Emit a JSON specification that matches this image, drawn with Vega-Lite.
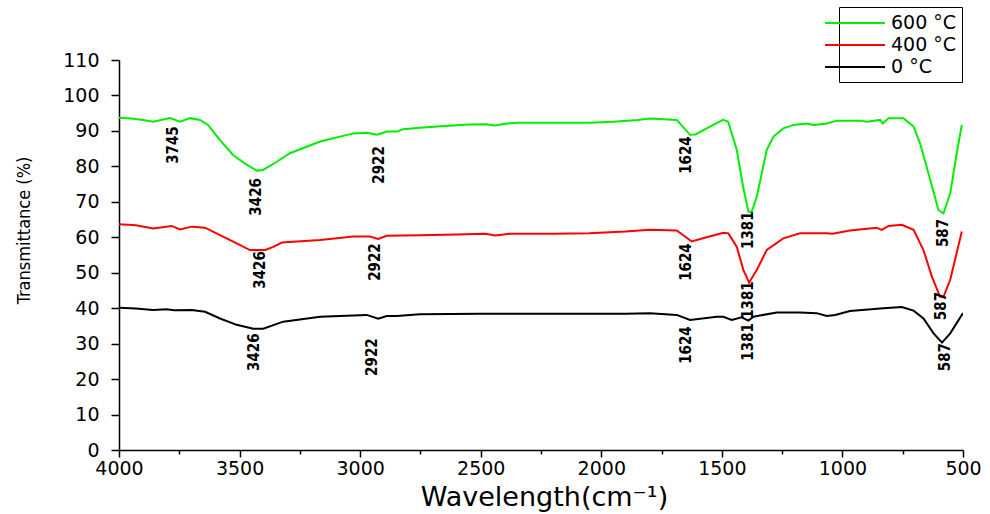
{
  "$schema": "https://vega.github.io/schema/vega-lite/v6.json",
  "width": 844,
  "height": 390,
  "autosize": "none",
  "padding": {"left": 119, "top": 60, "right": 27, "bottom": 64},
  "background": "white",
  "config": {
    "view": {"stroke": null},
    "axis": {"grid": false, "domainColor": "black", "tickColor": "black", "labelColor": "black", "titleColor": "black", "domainWidth": 1.5, "tickWidth": 1.5}
  },
  "datasets": {
    "spectra": [
      {"wn": 4000, "T": 93.7, "s": "600 °C"},
      {"wn": 3950, "T": 93.5, "s": "600 °C"},
      {"wn": 3900, "T": 93.1, "s": "600 °C"},
      {"wn": 3858, "T": 92.6, "s": "600 °C"},
      {"wn": 3788, "T": 93.6, "s": "600 °C"},
      {"wn": 3747, "T": 92.6, "s": "600 °C"},
      {"wn": 3705, "T": 93.6, "s": "600 °C"},
      {"wn": 3664, "T": 93.1, "s": "600 °C"},
      {"wn": 3631, "T": 91.7, "s": "600 °C"},
      {"wn": 3581, "T": 87.4, "s": "600 °C"},
      {"wn": 3527, "T": 83.2, "s": "600 °C"},
      {"wn": 3469, "T": 80.4, "s": "600 °C"},
      {"wn": 3428, "T": 78.8, "s": "600 °C"},
      {"wn": 3403, "T": 79.0, "s": "600 °C"},
      {"wn": 3345, "T": 81.3, "s": "600 °C"},
      {"wn": 3291, "T": 83.7, "s": "600 °C"},
      {"wn": 3166, "T": 87.0, "s": "600 °C"},
      {"wn": 3029, "T": 89.3, "s": "600 °C"},
      {"wn": 2971, "T": 89.5, "s": "600 °C"},
      {"wn": 2930, "T": 88.9, "s": "600 °C"},
      {"wn": 2888, "T": 89.8, "s": "600 °C"},
      {"wn": 2847, "T": 89.8, "s": "600 °C"},
      {"wn": 2822, "T": 90.5, "s": "600 °C"},
      {"wn": 2752, "T": 90.9, "s": "600 °C"},
      {"wn": 2650, "T": 91.4, "s": "600 °C"},
      {"wn": 2550, "T": 91.8, "s": "600 °C"},
      {"wn": 2480, "T": 91.9, "s": "600 °C"},
      {"wn": 2440, "T": 91.5, "s": "600 °C"},
      {"wn": 2400, "T": 92.0, "s": "600 °C"},
      {"wn": 2350, "T": 92.3, "s": "600 °C"},
      {"wn": 2200, "T": 92.3, "s": "600 °C"},
      {"wn": 2050, "T": 92.3, "s": "600 °C"},
      {"wn": 1950, "T": 92.6, "s": "600 °C"},
      {"wn": 1850, "T": 93.1, "s": "600 °C"},
      {"wn": 1798, "T": 93.5, "s": "600 °C"},
      {"wn": 1687, "T": 93.1, "s": "600 °C"},
      {"wn": 1632, "T": 88.9, "s": "600 °C"},
      {"wn": 1610, "T": 89.0, "s": "600 °C"},
      {"wn": 1549, "T": 91.2, "s": "600 °C"},
      {"wn": 1495, "T": 93.1, "s": "600 °C"},
      {"wn": 1474, "T": 92.6, "s": "600 °C"},
      {"wn": 1438, "T": 84.6, "s": "600 °C"},
      {"wn": 1412, "T": 74.3, "s": "600 °C"},
      {"wn": 1390, "T": 67.2, "s": "600 °C"},
      {"wn": 1376, "T": 67.2, "s": "600 °C"},
      {"wn": 1355, "T": 71.5, "s": "600 °C"},
      {"wn": 1314, "T": 84.6, "s": "600 °C"},
      {"wn": 1286, "T": 88.4, "s": "600 °C"},
      {"wn": 1245, "T": 90.7, "s": "600 °C"},
      {"wn": 1203, "T": 91.7, "s": "600 °C"},
      {"wn": 1148, "T": 92.1, "s": "600 °C"},
      {"wn": 1120, "T": 91.7, "s": "600 °C"},
      {"wn": 1065, "T": 92.1, "s": "600 °C"},
      {"wn": 1023, "T": 92.9, "s": "600 °C"},
      {"wn": 927, "T": 92.9, "s": "600 °C"},
      {"wn": 899, "T": 92.6, "s": "600 °C"},
      {"wn": 844, "T": 93.1, "s": "600 °C"},
      {"wn": 833, "T": 92.1, "s": "600 °C"},
      {"wn": 809, "T": 93.6, "s": "600 °C"},
      {"wn": 747, "T": 93.6, "s": "600 °C"},
      {"wn": 705, "T": 91.2, "s": "600 °C"},
      {"wn": 678, "T": 86.5, "s": "600 °C"},
      {"wn": 636, "T": 76.2, "s": "600 °C"},
      {"wn": 602, "T": 67.7, "s": "600 °C"},
      {"wn": 581, "T": 66.7, "s": "600 °C"},
      {"wn": 553, "T": 72.4, "s": "600 °C"},
      {"wn": 526, "T": 83.7, "s": "600 °C"},
      {"wn": 505, "T": 91.7, "s": "600 °C"},

      {"wn": 4000, "T": 63.7, "s": "400 °C"},
      {"wn": 3930, "T": 63.4, "s": "400 °C"},
      {"wn": 3858, "T": 62.5, "s": "400 °C"},
      {"wn": 3782, "T": 63.2, "s": "400 °C"},
      {"wn": 3747, "T": 62.2, "s": "400 °C"},
      {"wn": 3698, "T": 63.0, "s": "400 °C"},
      {"wn": 3643, "T": 62.7, "s": "400 °C"},
      {"wn": 3581, "T": 60.6, "s": "400 °C"},
      {"wn": 3512, "T": 58.3, "s": "400 °C"},
      {"wn": 3457, "T": 56.4, "s": "400 °C"},
      {"wn": 3394, "T": 56.4, "s": "400 °C"},
      {"wn": 3360, "T": 57.3, "s": "400 °C"},
      {"wn": 3325, "T": 58.5, "s": "400 °C"},
      {"wn": 3166, "T": 59.2, "s": "400 °C"},
      {"wn": 3028, "T": 60.2, "s": "400 °C"},
      {"wn": 2959, "T": 60.2, "s": "400 °C"},
      {"wn": 2925, "T": 59.5, "s": "400 °C"},
      {"wn": 2890, "T": 60.4, "s": "400 °C"},
      {"wn": 2752, "T": 60.6, "s": "400 °C"},
      {"wn": 2600, "T": 60.8, "s": "400 °C"},
      {"wn": 2480, "T": 61.0, "s": "400 °C"},
      {"wn": 2440, "T": 60.5, "s": "400 °C"},
      {"wn": 2380, "T": 61.0, "s": "400 °C"},
      {"wn": 2200, "T": 61.0, "s": "400 °C"},
      {"wn": 2050, "T": 61.1, "s": "400 °C"},
      {"wn": 1900, "T": 61.6, "s": "400 °C"},
      {"wn": 1798, "T": 62.1, "s": "400 °C"},
      {"wn": 1687, "T": 61.9, "s": "400 °C"},
      {"wn": 1625, "T": 58.8, "s": "400 °C"},
      {"wn": 1563, "T": 60.0, "s": "400 °C"},
      {"wn": 1494, "T": 61.3, "s": "400 °C"},
      {"wn": 1473, "T": 61.1, "s": "400 °C"},
      {"wn": 1438, "T": 57.3, "s": "400 °C"},
      {"wn": 1411, "T": 50.8, "s": "400 °C"},
      {"wn": 1387, "T": 47.2, "s": "400 °C"},
      {"wn": 1355, "T": 50.8, "s": "400 °C"},
      {"wn": 1314, "T": 56.4, "s": "400 °C"},
      {"wn": 1245, "T": 59.7, "s": "400 °C"},
      {"wn": 1176, "T": 61.1, "s": "400 °C"},
      {"wn": 1065, "T": 61.1, "s": "400 °C"},
      {"wn": 1040, "T": 61.0, "s": "400 °C"},
      {"wn": 969, "T": 61.9, "s": "400 °C"},
      {"wn": 858, "T": 62.7, "s": "400 °C"},
      {"wn": 837, "T": 62.1, "s": "400 °C"},
      {"wn": 809, "T": 63.2, "s": "400 °C"},
      {"wn": 754, "T": 63.5, "s": "400 °C"},
      {"wn": 705, "T": 62.1, "s": "400 °C"},
      {"wn": 664, "T": 56.4, "s": "400 °C"},
      {"wn": 629, "T": 48.9, "s": "400 °C"},
      {"wn": 595, "T": 43.2, "s": "400 °C"},
      {"wn": 581, "T": 43.2, "s": "400 °C"},
      {"wn": 553, "T": 48.0, "s": "400 °C"},
      {"wn": 505, "T": 61.6, "s": "400 °C"},

      {"wn": 4000, "T": 40.1, "s": "0 °C"},
      {"wn": 3930, "T": 39.9, "s": "0 °C"},
      {"wn": 3858, "T": 39.5, "s": "0 °C"},
      {"wn": 3802, "T": 39.7, "s": "0 °C"},
      {"wn": 3772, "T": 39.4, "s": "0 °C"},
      {"wn": 3698, "T": 39.5, "s": "0 °C"},
      {"wn": 3643, "T": 39.0, "s": "0 °C"},
      {"wn": 3581, "T": 37.1, "s": "0 °C"},
      {"wn": 3512, "T": 35.3, "s": "0 °C"},
      {"wn": 3443, "T": 34.2, "s": "0 °C"},
      {"wn": 3402, "T": 34.2, "s": "0 °C"},
      {"wn": 3319, "T": 36.2, "s": "0 °C"},
      {"wn": 3166, "T": 37.6, "s": "0 °C"},
      {"wn": 2973, "T": 38.1, "s": "0 °C"},
      {"wn": 2925, "T": 37.0, "s": "0 °C"},
      {"wn": 2890, "T": 37.8, "s": "0 °C"},
      {"wn": 2848, "T": 37.8, "s": "0 °C"},
      {"wn": 2752, "T": 38.3, "s": "0 °C"},
      {"wn": 2500, "T": 38.4, "s": "0 °C"},
      {"wn": 2200, "T": 38.4, "s": "0 °C"},
      {"wn": 1900, "T": 38.4, "s": "0 °C"},
      {"wn": 1798, "T": 38.6, "s": "0 °C"},
      {"wn": 1687, "T": 38.1, "s": "0 °C"},
      {"wn": 1632, "T": 36.7, "s": "0 °C"},
      {"wn": 1521, "T": 37.6, "s": "0 °C"},
      {"wn": 1494, "T": 37.6, "s": "0 °C"},
      {"wn": 1459, "T": 36.7, "s": "0 °C"},
      {"wn": 1418, "T": 37.4, "s": "0 °C"},
      {"wn": 1390, "T": 36.5, "s": "0 °C"},
      {"wn": 1369, "T": 37.6, "s": "0 °C"},
      {"wn": 1272, "T": 38.8, "s": "0 °C"},
      {"wn": 1176, "T": 38.8, "s": "0 °C"},
      {"wn": 1107, "T": 38.6, "s": "0 °C"},
      {"wn": 1065, "T": 37.8, "s": "0 °C"},
      {"wn": 1030, "T": 38.1, "s": "0 °C"},
      {"wn": 969, "T": 39.2, "s": "0 °C"},
      {"wn": 830, "T": 40.0, "s": "0 °C"},
      {"wn": 754, "T": 40.3, "s": "0 °C"},
      {"wn": 705, "T": 39.3, "s": "0 °C"},
      {"wn": 664, "T": 37.1, "s": "0 °C"},
      {"wn": 622, "T": 32.9, "s": "0 °C"},
      {"wn": 587, "T": 30.3, "s": "0 °C"},
      {"wn": 553, "T": 32.9, "s": "0 °C"},
      {"wn": 500, "T": 38.6, "s": "0 °C"}
    ],
    "peaks": [
      {"label": "3745", "wn": 3775, "T": 86.0},
      {"label": "3426", "wn": 3430, "T": 71.4},
      {"label": "2922", "wn": 2920, "T": 80.4},
      {"label": "1624", "wn": 1650, "T": 83.2},
      {"label": "1381", "wn": 1390, "T": 62.0},
      {"label": "587", "wn": 585, "T": 61.2},
      {"label": "3426", "wn": 3415, "T": 50.8},
      {"label": "2922", "wn": 2940, "T": 53.0},
      {"label": "1624", "wn": 1650, "T": 53.0},
      {"label": "1381", "wn": 1390, "T": 42.3},
      {"label": "587", "wn": 590, "T": 40.6},
      {"label": "3426", "wn": 3440, "T": 27.6},
      {"label": "2922", "wn": 2950, "T": 26.2},
      {"label": "1624", "wn": 1650, "T": 29.6},
      {"label": "1381", "wn": 1390, "T": 30.5},
      {"label": "587", "wn": 575, "T": 26.2}
    ]
  },
  "encoding": {
    "x": {
      "field": "wn", "type": "quantitative",
      "scale": {"domain": [4000, 500], "nice": false, "zero": false},
      "axis": {
        "values": [4000, 3750, 3500, 3250, 3000, 2750, 2500, 2250, 2000, 1750, 1500, 1250, 1000, 750, 500],
        "labelExpr": "datum.value % 500 === 0 ? datum.label : ''",
        "format": "d",
        "tickSize": {"condition": {"test": "datum.value % 500 === 0", "value": 7}, "value": 4},
        "labelFont": "DejaVu Sans", "labelFontSize": 19, "labelPadding": 2,
        "labelFlush": false, "labelOverlap": false,
        "title": "Wavelength(cm⁻¹)", "titleFont": "DejaVu Sans", "titleFontSize": 27, "titleFontWeight": "normal",
        "titleX": 425, "titleY": 47, "titleBaseline": "middle"
      }
    },
    "y": {
      "field": "T", "type": "quantitative",
      "scale": {"domain": [0, 110], "nice": false},
      "axis": {
        "values": [0, 10, 20, 30, 40, 50, 60, 70, 80, 90, 100, 110],
        "tickSize": 8, "labelFont": "DejaVu Sans", "labelFontSize": 19, "labelPadding": 12,
        "labelFlush": false, "labelOverlap": false,
        "title": "Transmittance (%)", "titleFont": "DejaVu Sans Condensed", "titleFontSize": 18, "titleFontWeight": "normal",
        "titleX": -95, "titleY": 170, "titleBaseline": "middle", "titleAlign": "center"
      }
    }
  },
  "layer": [
    {
      "data": {"name": "spectra"},
      "mark": {"type": "line", "strokeWidth": 2, "clip": true},
      "encoding": {
        "color": {
          "field": "s", "type": "nominal",
          "scale": {"domain": ["600 °C", "400 °C", "0 °C"], "range": ["#00ee00", "#ff0000", "#000000"]},
          "legend": {
            "title": null, "orient": "none", "legendX": 720, "legendY": -53,
            "symbolType": "M-3,0H3", "symbolSize": 400, "symbolStrokeWidth": 2,
            "labelFont": "DejaVu Sans", "labelFontSize": 19, "labelColor": "black", "labelOffset": 25,
            "strokeColor": "black", "padding": 5, "rowPadding": 1
          }
        }
      }
    },
    {
      "data": {"name": "peaks"},
      "mark": {"type": "text", "angle": 270, "align": "center", "baseline": "middle", "font": "DejaVu Sans Condensed", "fontSize": 15, "fontWeight": "bold", "color": "black"},
      "encoding": {
        "text": {"field": "label"}
      }
    }
  ]
}
